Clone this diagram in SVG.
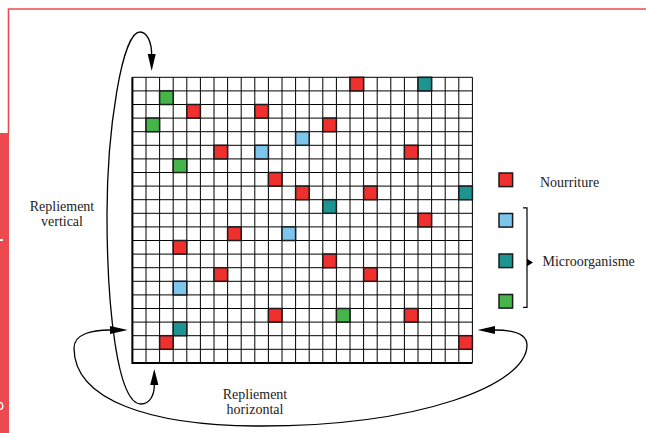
<svg xmlns="http://www.w3.org/2000/svg" width="646" height="433" viewBox="0 0 646 433">
<style>
.grid{fill:none;stroke:#000;stroke-width:1}
.edge{fill:none;stroke:#000;stroke-width:2}
.c{stroke:#1a1a1a;stroke-width:1.5}
.r{fill:#EF302F}
.g{fill:#45B549}
.b{fill:#7CC5EC}
.t{fill:#1C9592}
.lbl{font-family:"Liberation Serif","Times New Roman",serif;font-size:14px;fill:#222}
.curve{fill:none;stroke:#000;stroke-width:1.3}
.head{fill:#000}
</style>
<rect width="646" height="433" fill="#fff"/>
<g id="frame">
<path d="M8.5 134 V9 H646" fill="none" stroke="#ED4A50" stroke-width="1.6"/>
<rect x="0" y="133" width="9" height="300" fill="#ED4A50"/>
<rect x="0" y="239" width="3" height="2" fill="#fff"/>
<ellipse cx="0.5" cy="406" rx="2.3" ry="3.3" fill="none" stroke="#fff" stroke-width="1.3"/>
</g>
<g id="grid">
<path class="grid" d="M132.4 77.3V362.9M146 77.3V362.9M159.6 77.3V362.9M173.2 77.3V362.9M186.8 77.3V362.9M200.4 77.3V362.9M214 77.3V362.9M227.6 77.3V362.9M241.2 77.3V362.9M254.8 77.3V362.9M268.4 77.3V362.9M282 77.3V362.9M295.6 77.3V362.9M309.2 77.3V362.9M322.8 77.3V362.9M336.4 77.3V362.9M350 77.3V362.9M363.6 77.3V362.9M377.2 77.3V362.9M390.8 77.3V362.9M404.4 77.3V362.9M418 77.3V362.9M431.6 77.3V362.9M445.2 77.3V362.9M458.8 77.3V362.9M472.4 77.3V362.9
M132.4 77.3H472.4M132.4 90.9H472.4M132.4 104.5H472.4M132.4 118.1H472.4M132.4 131.7H472.4M132.4 145.3H472.4M132.4 158.9H472.4M132.4 172.5H472.4M132.4 186.1H472.4M132.4 199.7H472.4M132.4 213.3H472.4M132.4 226.9H472.4M132.4 240.5H472.4M132.4 254.1H472.4M132.4 267.7H472.4M132.4 281.3H472.4M132.4 294.9H472.4M132.4 308.5H472.4M132.4 322.1H472.4M132.4 335.7H472.4M132.4 349.3H472.4"/>
<path class="edge" d="M132.4 77.3V362.9H472.4"/>
</g>
<g id="cells">
<rect class="c r" x="350" y="77.3" width="13.6" height="13.6"/>
<rect class="c t" x="418" y="77.3" width="13.6" height="13.6"/>
<rect class="c g" x="159.6" y="90.9" width="13.6" height="13.6"/>
<rect class="c r" x="186.8" y="104.5" width="13.6" height="13.6"/>
<rect class="c r" x="254.8" y="104.5" width="13.6" height="13.6"/>
<rect class="c g" x="146" y="118.1" width="13.6" height="13.6"/>
<rect class="c r" x="322.8" y="118.1" width="13.6" height="13.6"/>
<rect class="c b" x="295.6" y="131.7" width="13.6" height="13.6"/>
<rect class="c r" x="214" y="145.3" width="13.6" height="13.6"/>
<rect class="c b" x="254.8" y="145.3" width="13.6" height="13.6"/>
<rect class="c r" x="404.4" y="145.3" width="13.6" height="13.6"/>
<rect class="c g" x="173.2" y="158.9" width="13.6" height="13.6"/>
<rect class="c r" x="268.4" y="172.5" width="13.6" height="13.6"/>
<rect class="c r" x="295.6" y="186.1" width="13.6" height="13.6"/>
<rect class="c r" x="363.6" y="186.1" width="13.6" height="13.6"/>
<rect class="c t" x="458.8" y="186.1" width="13.6" height="13.6"/>
<rect class="c t" x="322.8" y="199.7" width="13.6" height="13.6"/>
<rect class="c r" x="418" y="213.3" width="13.6" height="13.6"/>
<rect class="c r" x="227.6" y="226.9" width="13.6" height="13.6"/>
<rect class="c b" x="282" y="226.9" width="13.6" height="13.6"/>
<rect class="c r" x="173.2" y="240.5" width="13.6" height="13.6"/>
<rect class="c r" x="322.8" y="254.1" width="13.6" height="13.6"/>
<rect class="c r" x="214" y="267.7" width="13.6" height="13.6"/>
<rect class="c r" x="363.6" y="267.7" width="13.6" height="13.6"/>
<rect class="c b" x="173.2" y="281.3" width="13.6" height="13.6"/>
<rect class="c r" x="268.4" y="308.5" width="13.6" height="13.6"/>
<rect class="c g" x="336.4" y="308.5" width="13.6" height="13.6"/>
<rect class="c r" x="404.4" y="308.5" width="13.6" height="13.6"/>
<rect class="c t" x="173.2" y="322.1" width="13.6" height="13.6"/>
<rect class="c r" x="159.6" y="335.7" width="13.6" height="13.6"/>
<rect class="c r" x="458.8" y="335.7" width="13.6" height="13.6"/>
</g>
<g id="legend">
<rect class="c r" x="499" y="173" width="13.6" height="13.6"/>
<rect class="c b" x="499" y="213.5" width="13.6" height="13.6"/>
<rect class="c t" x="499" y="254" width="13.6" height="13.6"/>
<rect class="c g" x="499" y="294.5" width="13.6" height="13.6"/>
<text class="lbl" x="540" y="186.5">Nourriture</text>
<text class="lbl" x="542.5" y="266">Microorganisme</text>
<path d="M523 207.8H527V307.3H523" fill="none" stroke="#000" stroke-width="1.2"/>
<polygon class="head" points="527,258.8 533,262.5 527,266.2"/>
</g>
<g id="labels">
<text class="lbl" x="62" y="211" text-anchor="middle">Repliement</text>
<text class="lbl" x="62" y="225.7" text-anchor="middle">vertical</text>
<text class="lbl" x="255" y="398.5" text-anchor="middle">Repliement</text>
<text class="lbl" x="255" y="413.5" text-anchor="middle">horizontal</text>
</g>
<g id="connectors">
<path class="curve" d="M151.7 55 C151.7 42 147 32 140 32 C122 32 107 130 107 215 C107 305 117 404 141 404 C150 404 154.3 395 154.3 385"/>
<polygon class="head" points="147.7,54 155.7,54 151.7,71"/>
<polygon class="head" points="150.2,385 158.4,385 154.3,369"/>
<path class="curve" d="M110 330 C92 330 74 334 74 348 C74 400 150 426 260 426 C420 426 527 385 527 345 C527 333 512 330 495 330"/>
<polygon class="head" points="110,326 110,334 127.7,330"/>
<polygon class="head" points="495,326 495,334 477.7,330"/>
</g>
</svg>
